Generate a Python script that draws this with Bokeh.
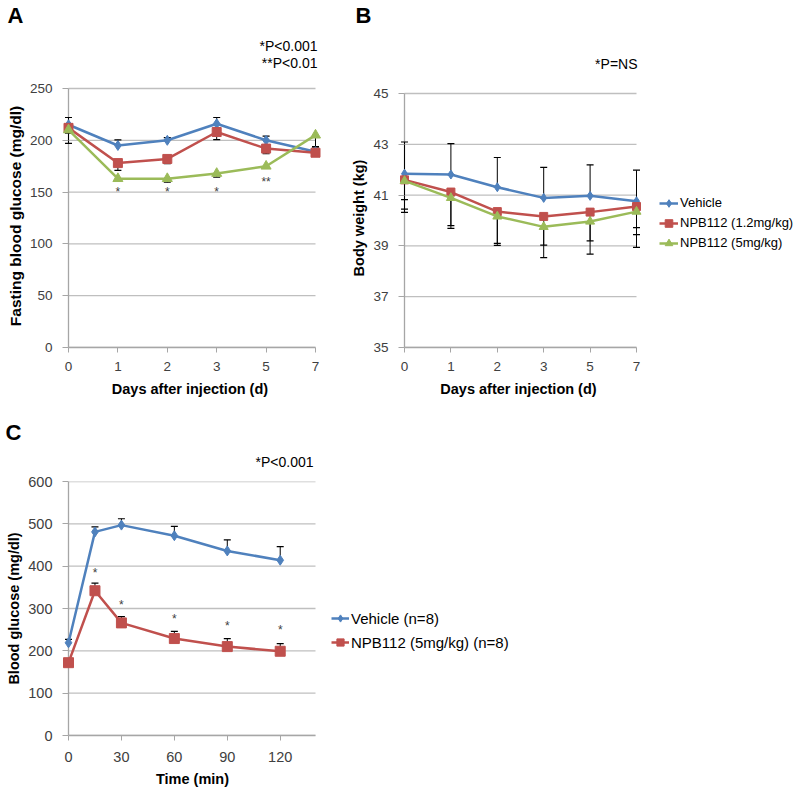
from bokeh.plotting import figure
from bokeh.models import Legend, LegendItem, FixedTicker, Range1d
from bokeh.layouts import column, row
from bokeh.embed import file_html
from bokeh.resources import INLINE
from bokeh.core.properties import value

# ---------------- data ----------------
# Panel A: fasting blood glucose
days = ["0", "1", "2", "3", "5", "7"]
a_vehicle = [215, 195, 200, 216, 200, 189]
a_npb_low = [212, 178, 182, 208, 192, 188]
a_npb_high = [210, 163, 163, 168, 175, 205]
a_vehicle_err_up = [7, 5.5, 2.6, 6, 4, 4.5]
a_npb_low_err_dn = [5, 7, 4.5, 7.4, 5, 2.5]
a_npb_high_err_dn = [13, 2, 3.5, 3.5, 2, 11]
a_yticks = [0, 50, 100, 150, 200, 250]
a_star_days = ["1", "2", "3", "5"]
a_star_text = ["*", "*", "*", "**"]
a_star_y = [152.6, 152.6, 152.6, 163]

# Panel B: body weight
b_vehicle = [41.84, 41.81, 41.31, 40.89, 40.97, 40.76]
b_npb_low = [41.60, 41.12, 40.35, 40.16, 40.33, 40.55]
b_npb_high = [41.56, 40.89, 40.16, 39.75, 39.96, 40.35]
b_vehicle_err_up = [1.25, 1.22, 1.17, 1.20, 1.22, 1.22]
b_vehicle_err_dn = [1.02, 0, 0, 0, 0, 1.32]
b_npb_low_err_dn = [1.15, 1.32, 1.25, 1.13, 1.13, 0.83]
b_npb_high_err_dn = [1.24, 1.20, 1.14, 1.21, 1.28, 1.41]
b_yticks = [35, 37, 39, 41, 43, 45]
b_labels = ["Vehicle", "NPB112 (1.2mg/kg)", "NPB112 (5mg/kg)"]

# Panel C: glucose tolerance
c_time = [0, 15, 30, 60, 90, 120]
c_vehicle = [219, 481, 497, 472, 436, 414]
c_npb = [172, 342, 266, 229, 210, 199]
c_vehicle_err_up = [8, 12, 15, 22, 26, 32]
c_npb_err_up = [3, 18, 15, 17, 19, 18]
c_xticks = [0, 30, 60, 90, 120]
c_yticks = [0, 100, 200, 300, 400, 500, 600]
c_star_time = [15, 30, 60, 90, 120]
c_star_y = [391, 315, 282, 266, 256]
c_labels = ["Vehicle (n=8)", "NPB112 (5mg/kg) (n=8)"]

# ---------------- style ----------------
FONT = "Liberation Sans"
GRID = "#BFBFBF"
AXIS = "#A6A6A6"
TICKC = "#404040"
BLUE = "#4F81BD"
RED = "#C0504D"
GREEN = "#9BBB59"


def make_fig(width, height, bl, br, bt, bb, xr, yr):
    p = figure(width=width, height=height, x_range=Range1d(*xr), y_range=Range1d(*yr),
               output_backend="svg", toolbar_location=None, title=None,
               min_border_left=bl, min_border_right=br, min_border_top=bt, min_border_bottom=bb)
    p.outline_line_color = None
    p.xgrid.visible = False
    p.ygrid.visible = False
    return p


def blank_fig(width, height, xr, yr):
    p = figure(width=width, height=height, x_range=Range1d(*xr), y_range=Range1d(*yr),
               output_backend="svg", toolbar_location=None, title=None,
               x_axis_type=None, y_axis_type=None, min_border=0)
    p.outline_line_color = None
    p.grid.visible = False
    return p


def style_axes(p, xticks, xbounds, yticks, ybounds, tick_size, xlabel, ylabel,
               pad_px, xstand, ystand, xlab_stand, ylab_stand, x_over=None,
               xlab_size="14.5px", ylab_size="14.5px"):
    xa = p.xaxis[0]
    ya = p.yaxis[0]
    xa.ticker = FixedTicker(ticks=xticks)
    if x_over:
        xa.major_label_overrides = x_over
    xa.bounds = xbounds
    xa.axis_line_color = AXIS
    xa.axis_line_width = 1.3
    xa.major_tick_line_color = AXIS
    xa.major_tick_out = 5
    xa.major_tick_in = 0
    xa.minor_tick_line_color = None
    xa.major_label_text_font = FONT
    xa.major_label_text_font_size = tick_size
    xa.major_label_text_color = TICKC
    xa.major_label_standoff = xstand
    xa.axis_label = xlabel
    xa.axis_label_text_font = FONT
    xa.axis_label_text_font_style = "bold"
    xa.axis_label_text_font_size = xlab_size
    xa.axis_label_text_color = "#000000"
    xa.axis_label_standoff = xlab_stand

    ya.ticker = FixedTicker(ticks=yticks)
    ya.bounds = ybounds
    ya.axis_line_color = None
    ya.major_tick_line_color = AXIS
    ya.major_tick_out = 0
    ya.major_tick_in = pad_px
    ya.minor_tick_line_color = None
    ya.major_label_text_font = FONT
    ya.major_label_text_font_size = tick_size
    ya.major_label_text_color = TICKC
    ya.major_label_standoff = ystand
    ya.axis_label = ylabel
    ya.axis_label_text_font = FONT
    ya.axis_label_text_font_style = "bold"
    ya.axis_label_text_font_size = ylab_size
    ya.axis_label_text_color = "#000000"
    ya.axis_label_standoff = ylab_stand

    # grid lines and vertical axis line drawn from the axis origin
    x0, x1 = xbounds
    p.segment(x0=[x0] * len(yticks), x1=[x1] * len(yticks), y0=yticks, y1=yticks,
              line_color=GRID, line_width=1.3)
    p.segment(x0=[x0], x1=[x0], y0=[ybounds[0]], y1=[ybounds[1]], line_color=AXIS, line_width=1.3)


def errbars(p, x, y, up=None, dn=None, cap=7):
    if up is not None:
        top = [a + b for a, b in zip(y, up)]
        p.segment(x0=x, x1=x, y0=y, y1=top, line_color="#000000", line_width=1)
        p.scatter(x=x, y=top, marker="dash", size=cap, line_color="#000000", line_width=1.2)
    if dn is not None:
        bot = [a - b for a, b in zip(y, dn)]
        p.segment(x0=x, x1=x, y0=y, y1=bot, line_color="#000000", line_width=1)
        p.scatter(x=x, y=bot, marker="dash", size=cap, line_color="#000000", line_width=1.2)


def series(p, x, y, color, marker, size, lw=2.5):
    p.line(x, y, line_color=color, line_width=lw)
    p.scatter(x, y, marker=marker, size=size, fill_color=color, line_color=color)


def legend_fig(width, height, xs, ys_list, labels, colors, markers, loc, gw, gh, fsize):
    # key-only figure: the series are drawn outside its (0..1) view, only the legend shows
    lf = blank_fig(width, height, (0, 1), (0, 1))
    items = []
    for ys, lab, col, mk in zip(ys_list, labels, colors, markers):
        lr = lf.line(x=xs, y=ys, line_color=col, line_width=2.5)
        sr = lf.scatter(x=xs, y=ys, marker=mk, size=8, fill_color=col, line_color=col)
        items.append(LegendItem(label=lab, renderers=[lr, sr]))
    leg = Legend(items=items, location=loc, padding=0, spacing=0, margin=0,
                 glyph_width=gw, glyph_height=gh, label_height=gh, label_standoff=2,
                 label_text_font=FONT, label_text_font_size=fsize, label_text_color="#000000",
                 border_line_color=None, background_fill_alpha=0)
    lf.add_layout(leg)
    return lf


def strip_text(p, xs, ys, texts, size, bold, align):
    p.text(x=xs, y=ys, text=texts, text_font=value(FONT), text_font_size=size,
           text_font_style="bold" if bold else "normal", text_color="#000000",
           text_align=align, text_baseline="middle")


xi = list(range(len(days)))
x_over = {i: d for i, d in enumerate(days)}

# ---------------- top strip: panel letters and notes (pixel coordinates) ----------------
top = blank_fig(795, 72, (0, 795), (72, 0))
strip_text(top, [7, 355], [15, 15], ["A", "B"], "22px", True, "left")
strip_text(top, [317, 317, 637], [45, 62, 63.5], ["*P<0.001", "**P<0.01", "*P=NS"], "14px", False, "right")

# ---------------- Panel A ----------------
# canvas y 72..399; frame x 62..321, y 84..347; x 0..5 -> 68..315, y 0..250 -> 347..88
kxA = 247 / 5
kyA = 259 / 250
pA = make_fig(340, 327, 62, 19, 12, 52, (-6 / kxA, 5 + 6 / kxA), (0, 250 + (88 - 84) / kyA))
style_axes(pA, xi, (0, 5), a_yticks, (0, 250), "13.5px", "Days after injection  (d)",
           "Fasting blood glucose (mg/dl)", 6, 9, 10, 7, 3, x_over, ylab_size="15.5px")
errbars(pA, xi, a_vehicle, up=a_vehicle_err_up)
errbars(pA, xi, a_npb_low, dn=a_npb_low_err_dn)
errbars(pA, xi, a_npb_high, dn=a_npb_high_err_dn)
series(pA, xi, a_vehicle, BLUE, "diamond", 10)
series(pA, xi, a_npb_low, RED, "square", 9)
series(pA, xi, a_npb_high, GREEN, "triangle", 10)
pA.text(x=[days.index(d) for d in a_star_days], y=a_star_y, text=a_star_text,
        text_font=value(FONT), text_font_size="12px", text_color=TICKC,
        text_align="center", text_baseline="middle", y_offset=3)

# ---------------- Panel B ----------------
# canvas x 340..650, y 72..399; frame x 398..642, y 84..347; x 0..5 -> 404..636, y 35..45 -> 347..93
kxB = 232 / 5
kyB = 254 / 10
pB = make_fig(310, 327, 58, 8, 12, 52, (-6 / kxB, 5 + 6 / kxB), (35, 45 + (93 - 84) / kyB))
style_axes(pB, xi, (0, 5), b_yticks, (35, 45), "13.5px", "Days after injection  (d)",
           "Body weight  (kg)", 6, 9, 10, 7, 3, x_over)
errbars(pB, xi, b_vehicle, up=b_vehicle_err_up, dn=b_vehicle_err_dn)
errbars(pB, xi, b_npb_low, dn=b_npb_low_err_dn)
errbars(pB, xi, b_npb_high, dn=b_npb_high_err_dn)
series(pB, xi, b_vehicle, BLUE, "diamond", 9)
series(pB, xi, b_npb_low, RED, "square", 8)
series(pB, xi, b_npb_high, GREEN, "triangle", 9)

# legend for B: canvas x 650..795; its frame bottom is aligned with B's (347)
legB = legend_fig(145, 327, xi, [b_vehicle, b_npb_low, b_npb_high], b_labels,
                  [BLUE, RED, GREEN], ["diamond", "square", "triangle"],
                  (659 - 650, 347 - 252.7), 19, 20, "13px")

# ---------------- strip above C ----------------
topC = blank_fig(520, 73, (0, 520), (73, 0))
strip_text(topC, [5], [32.5], ["C"], "22px", True, "left")
strip_text(topC, [313], [62], ["*P<0.001"], "14px", False, "right")

# ---------------- Panel C ----------------
# canvas x 0..330, y 472..789; frame x 62..322, y 481..737; x 0..140 -> 68..315, y 0..600 -> 737..481
kxC = 247 / 140
kyC = 256 / 600
pC = make_fig(330, 317, 62, 8, 9, 52, (-6 / kxC, 140 + 7 / kxC), (0, 600))
style_axes(pC, c_xticks, (0, 140), c_yticks, (0, 600), "14.5px", "Time (min)",
           "Blood glucose (mg/dl)", 6, 11, 10, 6, 3)
errbars(pC, c_time, c_vehicle, up=c_vehicle_err_up)
errbars(pC, c_time, c_npb, up=c_npb_err_up)
series(pC, c_time, c_vehicle, BLUE, "diamond", 10)
series(pC, c_time, c_npb, RED, "square", 10)
pC.text(x=c_star_time, y=c_star_y, text=["*"] * len(c_star_time),
        text_font=value(FONT), text_font_size="12px", text_color=TICKC,
        text_align="center", text_baseline="middle", y_offset=3)

# legend for C: canvas x 330..520; its frame bottom is aligned with C's (737)
legC = legend_fig(190, 317, c_time, [c_vehicle, c_npb], c_labels, [BLUE, RED],
                  ["diamond", "square"], (331 - 330, 737 - 656), 18, 24, "15px")

layout = column(top, row(pA, pB, legB), topC, row(pC, legC))
open("out.html", "w").write(file_html(layout, INLINE))
